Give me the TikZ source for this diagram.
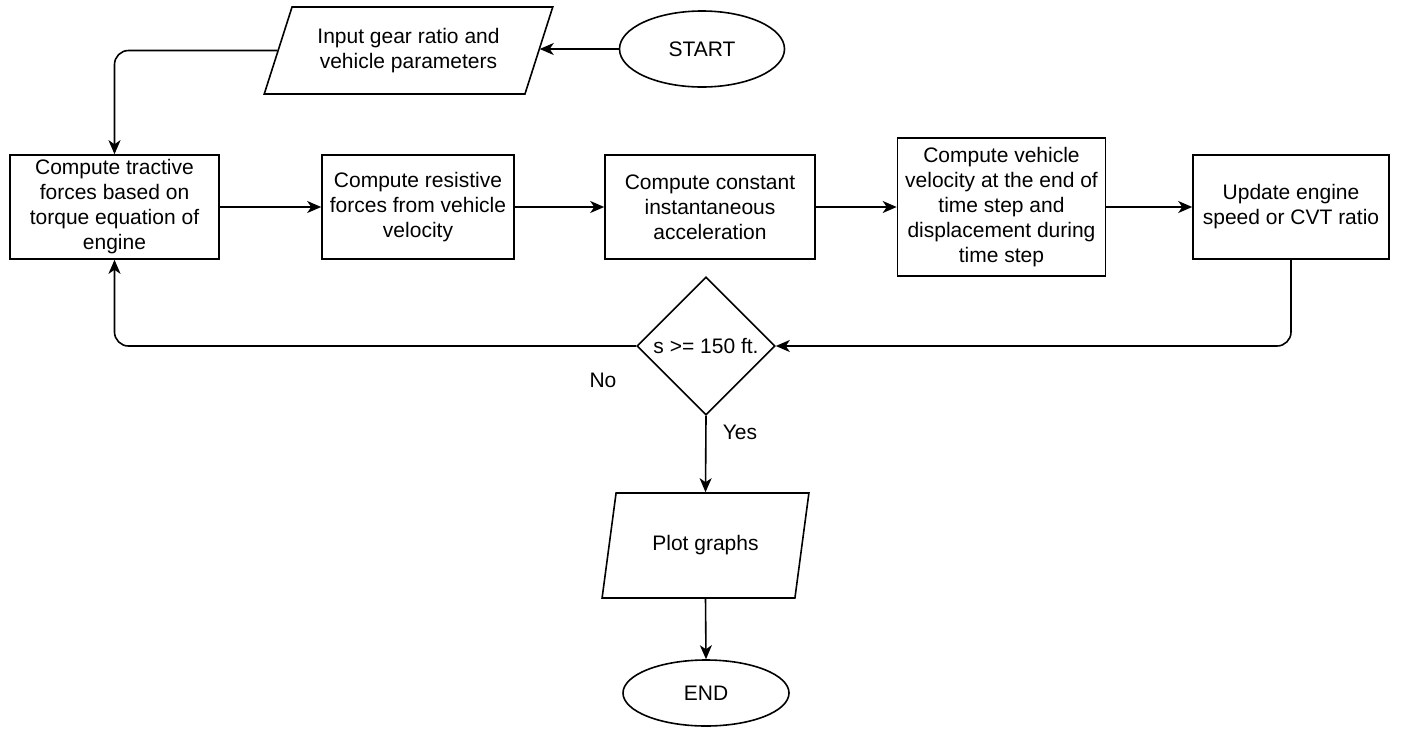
\documentclass[tikz,border=0pt]{standalone}
\usepackage{fontspec}
\setmainfont{Liberation Sans}
\usetikzlibrary{shapes.geometric,arrows.meta}
\begin{document}
\begin{tikzpicture}[x=1pt,y=-1pt,
  every node/.style={font=\fontsize{21}{25}\selectfont},
  procbox/.style={draw,line width=1.6pt,align=center,inner sep=0pt},
  ioshape/.style={draw,line width=1.6pt,align=center,trapezium,trapezium stretches=true,inner sep=0pt},
  termshape/.style={draw,line width=1.6pt,ellipse,inner sep=0pt},
  decshape/.style={draw,line width=1.6pt,diamond,inner sep=0pt,aspect=1},
  arr/.style={line width=1.6pt,-{Stealth[length=14pt,width=12pt,inset=4pt]}},
  lbl/.style={font=\fontsize{21}{25}\selectfont}]
\useasboundingbox (0,0) rectangle (1406,729);
\fill[white] (0,0) rectangle (1406,729);

\node[termshape,minimum width=165pt,minimum height=76pt] (start) at (702,49) {START};
\node[ioshape,trapezium left angle=64,trapezium right angle=116,minimum width=289pt,minimum height=87pt] (input) at (408.5,50.5) {Input gear ratio and\\vehicle parameters};

\node[procbox,minimum width=209pt,minimum height=104pt] (b1) at (114.5,207) {Compute tractive\\forces based on\\torque equation of\\engine};
\node[procbox,minimum width=192pt,minimum height=104pt] (b2) at (418,207) {Compute resistive\\forces from vehicle\\velocity};
\node[procbox,minimum width=210pt,minimum height=104pt] (b3) at (710,207) {Compute constant\\instantaneous\\acceleration};
\node[procbox,minimum width=208pt,minimum height=138pt] (b4) at (1001.5,207) {Compute vehicle\\velocity at the end of\\time step and\\displacement during\\time step};
\node[procbox,minimum width=196pt,minimum height=104pt] (b5) at (1291,207) {Update engine\\speed or CVT ratio};

\node[decshape,minimum width=138pt,minimum height=138pt] (dec) at (706,346) {s >= 150 ft.};
\node[ioshape,trapezium left angle=67,trapezium right angle=113,minimum width=207pt,minimum height=105pt] (plot) at (705.5,545.5) {Plot graphs};
\node[termshape,minimum width=166pt,minimum height=66pt] (end) at (706,693) {END};

\node[lbl] (no) at (603,380) {No};
\node[lbl] (yes) at (740,432) {Yes};

\draw[arr] (start.west) -- (start.west -| input.east);
\draw[arr,rounded corners=14pt] (input.west) -| (b1.north);
\draw[arr] (b1.east) -- (b2.west);
\draw[arr] (b2.east) -- (b3.west);
\draw[arr] (b3.east) -- (b3.east -| b4.west);
\draw[arr] (b4.east) -- (b4.east -| b5.west);
\draw[arr,rounded corners=14pt] (b5.south) |- (dec.east);
\draw[arr,rounded corners=14pt] (dec.west) -| (b1.south);
\draw[arr] (dec.south) -- (plot.north);
\draw[arr] (plot.south) -- (end.north);
\end{tikzpicture}
\end{document}
